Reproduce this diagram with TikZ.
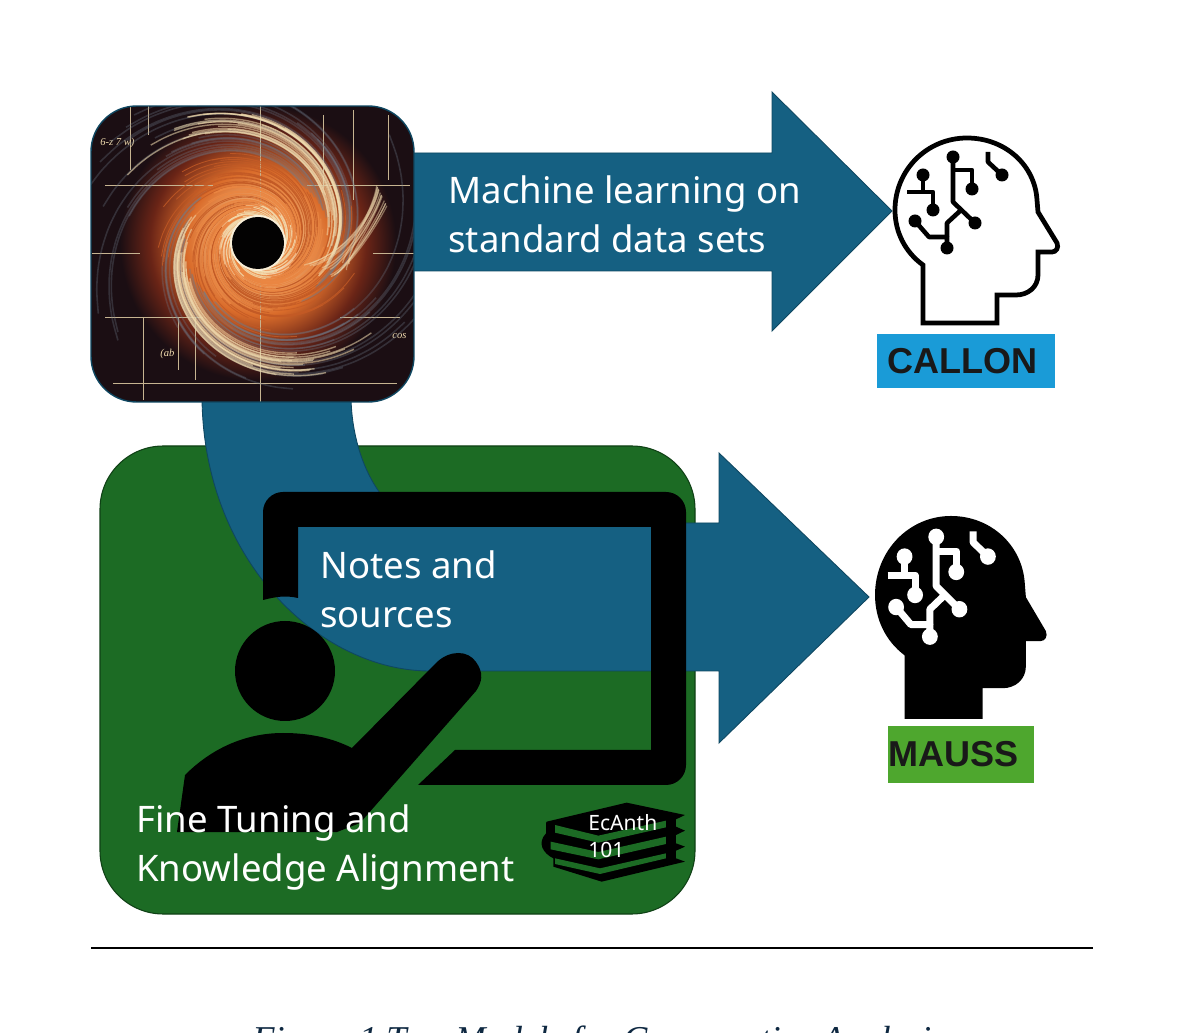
\documentclass[tikz,border=0pt]{standalone}
\usepackage{fontspec}
\newfontfamily\labelfont{Noto Sans}
\newfontfamily\tagfont{Liberation Sans}
\newfontfamily\capfont{Liberation Serif}
\definecolor{arrowblue}{HTML}{156082}
\definecolor{edgeblue}{HTML}{0F4761}
\definecolor{boxgreen}{HTML}{1C6B24}
\definecolor{edgegreen}{HTML}{0F4015}
\definecolor{tagblue}{HTML}{1A9BD7}
\definecolor{taggreen}{HTML}{4EA72E}
\definecolor{imgdark}{HTML}{1B0E13}
\definecolor{cream}{HTML}{F2DDB0}
\definecolor{flame}{HTML}{E8772E}
\definecolor{ember}{HTML}{8C2E18}
\definecolor{haze}{HTML}{6F7C8C}
\definecolor{capblue}{HTML}{0E2841}
\pgfdeclareradialshading{holeglow}{\pgfpoint{0cm}{0cm}}{%
	color(0bp)=(cream!40!white); color(4.5bp)=(cream!40!white); color(7bp)=(flame!55!cream);
	color(12bp)=(flame!85!ember); color(18bp)=(ember!70!imgdark); color(23bp)=(imgdark); color(50bp)=(imgdark)}
\tikzset{
	bluearrow/.style={fill=arrowblue, draw=edgeblue, line width=0.5pt},
	whitelabel/.style={anchor=base west, inner sep=0pt, text=white, font=\labelfont\fontsize{20.8}{25}\selectfont},
	booklabel/.style={anchor=base west, inner sep=0pt, text=white, font=\labelfont\fontsize{12}{14}\selectfont},
	tagbox/.style={anchor=center, inner sep=0pt, text=black!90, font=\tagfont\bfseries\fontsize{20.5}{24}\selectfont},
	scribble/.style={anchor=base west, inner sep=0pt, text=cream, font=\capfont\itshape\fontsize{6}{7}\selectfont},
	wire/.style={line cap=butt, line join=round},
	gridline/.style={cream!80!imgdark, line width=0.5pt},
}
% one arm of the spiral: start angle, first and last turn
\newcommand{\swirlarm}[3]{plot[domain=#2:#3,samples=24,smooth,variable=\s] ({258+25*exp(.0051*\s)*cos(#1-\s)},{243+25*exp(.0051*\s)*sin(#1-\s)})}
\newcommand{\headoutline}{(923,323) -- (923,265) .. controls (905,252) and (895,232) .. (895,210) .. controls (895,170) and (927,138) .. (967,138) .. controls (1005,138) and (1035,165) .. (1037,200) -- (1038,212) -- (1057,243) .. controls (1059,248) and (1056,252) .. (1052,252) -- (1038,252) -- (1038,275) .. controls (1038,287) and (1028,295) .. (1016,295) -- (997,295) -- (997,323) -- cycle}
% wires of the head: colour, wire width, dot radius
\newcommand{\headwires}[3]{
	\draw[wire, #1, line width=#2] (953,157) -- (953,202) -- (975,223);
	\draw[wire, #1, line width=#2] (953,170) -- (972,170) -- (972,189);
	\draw[wire, #1, line width=#2] (923,175) -- (923,192);
	\draw[wire, #1, line width=#2] (907,192) -- (933,192) -- (933,210);
	\draw[wire, #1, line width=#2] (915,221) -- (929,237) -- (947,237) -- (947,248);
	\draw[wire, #1, line width=#2] (947,237) -- (947,223) -- (960,211);
	\draw[wire, #1, line width=#2] (988,152) -- (988,162) -- (1002,175);
	\foreach \px/\py in {953/157,975/223,972/189,923/175,933/210,915/221,947/248,1002/175}
		\fill[#1] (\px,\py) circle (#3);
}
\begin{document}
\begin{tikzpicture}[x=0.02cm,y=-0.02cm]
	\useasboundingbox (0,0) rectangle (1184,1033);
	\fill[white] (0,0) rectangle (1184,1033);

	% upper arrow
	\draw[bluearrow] (400,153) -- (772,153) -- (772,92) -- (892,211) -- (772,331) -- (772,271) -- (400,271) -- cycle;

	% tuning box and bent arrow
	\draw[fill=boxgreen, draw=edgegreen, line width=0.6pt, rounded corners=36pt] (100,446) rectangle (695,914);
	\draw[bluearrow] (202,395) .. controls (202,560) and (320,671) .. (430,671) -- (719,671) -- (719,743) -- (869,597) -- (719,453) -- (719,523) -- (430,523) .. controls (385,523) and (351,460) .. (351,395) -- cycle;

	% board
	\fill[black] (263,600) -- (263,512) arc (180:270:20) -- (666,492) arc (270:360:20) -- (686,765) arc (0:90:20) -- (418,785) -- (455,750) -- (651,750) -- (651,527) -- (298,527) -- (298,598) .. controls (285,595) and (275,597) .. (263,600) -- cycle;

	% person
	\fill[black] (285,671) circle (50);
	\fill[black] (177,832) -- (185,775) .. controls (215,745) and (250,733) .. (283,733) .. controls (310,733) and (332,738) .. (352,748) -- (437,662) .. controls (450,650) and (468,650) .. (476,662) .. controls (484,673) and (482,682) .. (476,691) -- (360,823) -- (337,832) -- cycle;

	\node (notes1) [whitelabel] at (320,579) {Notes and};
	\node (notes2) [whitelabel] at (320,628) {sources};
	\node (tuning1) [whitelabel] at (136,832) {Fine Tuning and};
	\node (tuning2) [whitelabel] at (136,881) {Knowledge Alignment};
	\node (ml1) [whitelabel] at (448,204) {Machine learning on};
	\node (ml2) [whitelabel] at (448,253) {standard data sets};

	% books
	\begin{scope}[shift={(520,790)},x=0.00667cm,y=-0.00667cm]
		\fill[black] (80,95) -- (320,38) -- (495,75) -- (468,88) -- (468,110) -- (495,122) -- (468,135) -- (468,160) -- (495,170) -- (468,182) -- (468,205) -- (495,215) -- (245,275) -- (100,230) -- (100,205) .. controls (70,190) and (50,160) .. (78,130) -- (78,100) -- cycle;
		\fill[boxgreen] (105,105) -- (235,137) -- (438,92) -- (438,112) -- (235,158) -- (105,128) -- cycle;
		\fill[boxgreen] (92,155) -- (235,186) -- (438,140) -- (438,162) -- (235,208) -- (92,178) -- cycle;
		\fill[boxgreen] (105,205) -- (240,235) -- (438,190) -- (438,205) -- (240,252) -- (105,222) -- cycle;
	\end{scope}
	\node (book1) [booklabel] at (588,830) {EcAnth};
	\node (book2) [booklabel] at (588,857) {101};

	% picture of the swirl
	\begin{scope}
		\clip[rounded corners=26pt] (91,106) rectangle (414,402);
		\fill[imgdark] (91,106) rectangle (414,402);
		\shade[shading=holeglow] (258,243) circle (150);
		\draw[gridline] (105,185) -- (213,185) (307,185) -- (410,185) (92,253) -- (140,253) (373,253) -- (414,253) (105,317) -- (203,317) (113,383) -- (397,383) (340,317) -- (400,317);
		\draw[gridline] (260,106) -- (260,402) (130,106) -- (130,170) (148,106) -- (148,135) (323,115) -- (323,190) (353,110) -- (353,200) (388,115) -- (388,180) (143,317) -- (143,400) (178,317) -- (178,370) (195,317) -- (195,380);
		\node (sc1) [scribble] at (100,146) {6-z 7 w)};
		\node (sc2) [scribble] at (392,339) {cos};
		\node (sc3) [scribble] at (160,357) {(ab};
		\pgfmathsetseed{17}
		\foreach \a in {30,210}
			\foreach \n in {1,...,26} {
				\pgfmathsetmacro{\off}{-55+110*rnd}
				\pgfmathsetmacro{\top}{300+90*rnd}
				\draw[haze, line width=0.9pt, opacity=.3] \swirlarm{\a+\off}{210}{\top};
			}
		\foreach \n in {1,...,60} {
			\pgfmathsetmacro{\off}{360*rnd}
			\pgfmathsetmacro{\top}{190+90*rnd}
			\draw[flame!60!ember, line width=0.5pt, opacity=.8] \swirlarm{\off}{90}{\top};
		}
		\foreach \n in {1,...,80} {
			\pgfmathsetmacro{\off}{360*rnd}
			\pgfmathsetmacro{\top}{110+90*rnd}
			\draw[flame!85!cream, line width=0.6pt, opacity=.85] \swirlarm{\off}{5}{\top};
		}
		\foreach \a in {30,210}
			\foreach \n in {1,...,22} {
				\pgfmathsetmacro{\off}{-22+44*rnd}
				\pgfmathsetmacro{\low}{195+40*rnd}
				\pgfmathsetmacro{\top}{300+50*rnd}
				\draw[cream, line width=0.8pt, opacity=.55] \swirlarm{\a+\off}{\low}{\top};
			}
		\foreach \n in {1,...,40} {
			\pgfmathsetmacro{\off}{360*rnd}
			\pgfmathsetmacro{\top}{30+50*rnd}
			\draw[cream, line width=0.6pt, opacity=.8] \swirlarm{\off}{0}{\top};
		}
		\foreach \n in {1,...,14} {
			\pgfmathsetmacro{\off}{-12+24*rnd}
			\pgfmathsetmacro{\far}{300+50*rnd}
			\draw[cream, line width=0.7pt, opacity=.45] (382+\off/2,196+\off) .. controls (372,225+\off) and (345,262+\off) .. (\far,270+\off/1.5);
		}
		\fill[cream!50!white] (258,243) circle (28);
		\fill[black!90!imgdark] (258,243) circle (26);
	\end{scope}
	\draw[edgeblue, line width=0.8pt, rounded corners=26pt] (91,106) rectangle (414,402);

	% upper head
	\draw[black, line width=2.7pt, line join=miter] \headoutline;
	\headwires{black}{2.6pt}{6.5}
	\node (callon) [tagbox, fill=tagblue, minimum width=178*0.02cm, minimum height=54*0.02cm] at (966,361) {CALLON\kern4.5pt};

	% lower head
	\begin{scope}[shift={(-69.2,364.6)},xscale=1.055,yscale=1.097]
		\fill[black] \headoutline;
		\headwires{white}{4pt}{7.5}
	\end{scope}
	\node (mauss) [tagbox, fill=taggreen, minimum width=146*0.02cm, minimum height=57*0.02cm] at (961,754.5) {MAUSS\kern8pt};

	% rule and caption
	\coordinate (ruleleft) at (91,948);
	\coordinate (ruleright) at (1093,948);
	\draw[black, line width=1.2pt] (ruleleft) -- (ruleright);
	\node (caption) [anchor=base west, inner sep=0pt, text=capblue, font=\capfont\itshape\fontsize{20.7}{25}\selectfont] at (252,1051) {Figure 1 Two Models for Comparative Analysis};
\end{tikzpicture}
\end{document}
